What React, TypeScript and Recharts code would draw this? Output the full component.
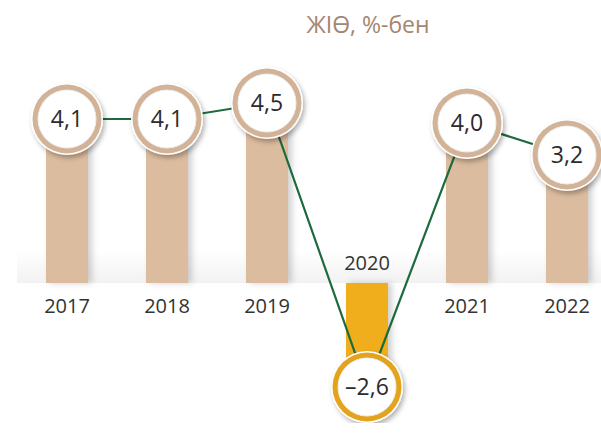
import React from "react";
import { ComposedChart, Bar, Line, XAxis, YAxis, ReferenceArea } from "recharts";

const years = ["2017", "2018", "2019", "2020", "2021", "2022"];
const gdpGrowth = [4.1, 4.1, 4.5, -2.6, 4.0, 3.2];
const title = "ЖІӨ, %-бен";

const data = years.map((year, i) => ({ year, value: gdpGrowth[i] }));

const TAN = "#dcbc9f";
const RING_TAN = "#d2b397";
const GOLD = "#f0ad1a";
const RING_GOLD = "#e3a31c";
const LINE_GREEN = "#1d6b3c";
const FONT = "'Open Sans', 'Noto Sans', sans-serif";

const fmt = (v: number) => (v < 0 ? "\u2013" : "") + Math.abs(v).toFixed(1).replace(".", ",");

function BarShape(props: any) {
  const { x, y, width, height, payload } = props;
  const top = Math.min(y, y + height);
  const h = Math.abs(height);
  const neg = payload.value < 0;
  const base = neg ? top : top + h;
  const cx = x + width / 2;
  return (
    <g>
      <rect x={x} y={top} width={width} height={h} fill={neg ? GOLD : TAN} filter="url(#barShadow)" />
      <text
        x={cx}
        y={neg ? base - 13 : base + 30}
        textAnchor="middle"
        fontFamily={FONT}
        fontSize={20}
        fill="#333"
      >
        {payload.year}
      </text>
    </g>
  );
}

function Bubble(props: any) {
  const { cx, cy, payload, index } = props;
  const neg = payload.value < 0;
  return (
    <g key={`dot-${index}`}>
      <circle cx={cx} cy={cy} r={36} fill="#fff" filter="url(#dotShadow)" />
      <circle cx={cx} cy={cy} r={34.5} fill={neg ? RING_GOLD : RING_TAN} />
      <circle cx={cx} cy={cy} r={29} fill="#fff" stroke="#eee" strokeWidth={1} />
      <text
        x={cx}
        y={cy + 8}
        textAnchor="middle"
        fontFamily={FONT}
        fontSize={23}
        fill="#2b2b2b"
      >
        {fmt(payload.value)}
      </text>
    </g>
  );
}

export default function App() {
  return (
    <div
      style={{
        position: "absolute",
        left: 0,
        top: 0,
        width: 601,
        height: 435,
        overflow: "hidden",
        background: "#fff",
      }}
    >
      <div
        style={{
          position: "absolute",
          left: 268,
          top: 8,
          width: 200,
          textAlign: "center",
          fontFamily: FONT,
          fontSize: 23,
          color: "#a5866f",
          zIndex: 2,
        }}
      >
        {title}
      </div>
      <ComposedChart
        width={617}
        height={435}
        data={data}
        margin={{ top: 43, right: 0, left: 0, bottom: 12 }}
        barCategoryGap={0}
      >
        <defs>
          <linearGradient id="baseBand" x1="0" y1="0" x2="0" y2="1">
            <stop offset="0%" stopColor="#e4e4e4" stopOpacity={0} />
            <stop offset="100%" stopColor="#e4e4e4" stopOpacity={0.5} />
          </linearGradient>
          <filter id="barShadow" x="-30%" y="-5%" width="160%" height="110%">
            <feDropShadow dx="4" dy="0" stdDeviation="3" floodColor="#000" floodOpacity="0.18" />
          </filter>
          <filter id="dotShadow" x="-30%" y="-30%" width="160%" height="160%">
            <feDropShadow dx="2" dy="3" stdDeviation="2.5" floodColor="#000" floodOpacity="0.3" />
          </filter>
        </defs>
        <XAxis dataKey="year" hide padding={{ left: 17, right: 0 }} />
        <YAxis hide domain={[-3.5, 6]} allowDataOverflow />
        <ReferenceArea y1={0} y2={0.8} fill="url(#baseBand)" fillOpacity={1} stroke="none" />
        <Bar dataKey="value" barSize={42} shape={<BarShape />} isAnimationActive={false} />
        <Line
          dataKey="value"
          type="linear"
          stroke={LINE_GREEN}
          strokeWidth={2.2}
          dot={(p: any) => <Bubble {...p} key={`b-${p.index}`} />}
          activeDot={false}
          isAnimationActive={false}
        />
      </ComposedChart>
    </div>
  );
}
